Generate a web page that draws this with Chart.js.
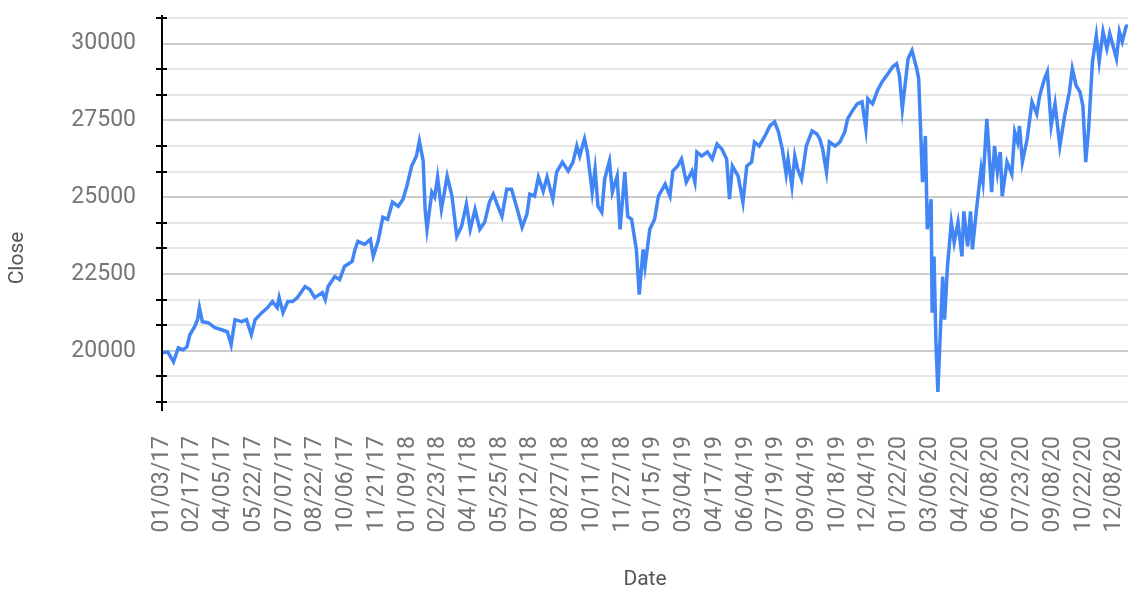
<!DOCTYPE html>
<html lang="en">
<head>
  <meta charset="UTF-8">
  <title>Close by Date</title>
  <script src="https://cdn.jsdelivr.net/npm/chart.js"></script>
  <style>
    body { margin: 0; background: #fff; }
    #wrap { position: relative; width: 1137px; height: 602px; }
  </style>
</head>
<body>
  <div id="wrap">
    <canvas id="closeChart"></canvas>
  </div>

  <script>
    // trading-day index (0 = 01/03/17) and close value
    const dayIdx = [
      0, 6, 12, 17, 22, 26, 29, 34, 37, 39, 42, 48, 55, 62, 68, 72, 76, 83, 88, 93,
      97, 104, 110, 115, 120, 122, 126, 131, 136, 141, 149, 154, 159, 167, 170, 173, 180, 185, 190, 198,
      201, 204, 211, 217, 220, 225, 230, 235, 240, 246, 251, 255, 260, 265, 268, 272, 274, 276, 281, 284,
      287, 291, 297, 302, 307, 312, 317, 321, 326, 331, 336, 341, 345, 349, 354, 359, 364, 370, 375, 380,
      383, 388, 392, 397, 401, 407, 411, 417, 423, 428, 432, 435, 440, 443, 448, 451, 454, 458, 461, 466,
      469, 474, 477, 482, 485, 489, 494, 497, 501, 503, 508, 513, 517, 524, 529, 532, 537, 541, 546, 552,
      555, 557, 562, 568, 573, 578, 583, 588, 591, 594, 600, 605, 609, 614, 617, 622, 628, 633, 638, 642,
      646, 650, 652, 656, 659, 662, 666, 671, 677, 682, 685, 688, 692, 695, 701, 706, 711, 714, 719, 724,
      729, 733, 735, 740, 745, 750, 756, 761, 765, 768, 771, 777, 781, 786, 788, 790, 792, 795, 797, 801,
      802, 804, 806, 808, 813, 815, 818, 822, 825, 829, 833, 835, 839, 842, 844, 848, 853, 855, 859, 864,
      867, 870, 873, 875, 880, 885, 888, 891, 893, 896, 901, 906, 911, 914, 919, 922, 924, 926, 930, 935,
      940, 945, 948, 952, 956, 959, 962, 965, 969, 973, 976, 980, 984, 987, 994, 997, 1000, 1004, 1006
    ];
    const closeVals = [
      19935, 19967, 19641, 20098, 20033, 20131, 20523, 20784, 21013, 21405, 20948, 20915, 20752, 20686, 20621, 20196, 21013, 20948, 21013, 20523,
      21013, 21242, 21405, 21601, 21405, 21732, 21242, 21601, 21601, 21732, 22092, 21993, 21732, 21895, 21667, 22092, 22418, 22320, 22745, 22909,
      23301, 23562, 23464, 23627, 23072, 23562, 24346, 24281, 24837, 24706, 24935, 25360, 26013, 26340, 26830, 26177, 24608, 23954, 25163, 25000,
      25654, 24608, 25686, 25033, 23725, 24052, 24771, 23954, 24608, 23954, 24183, 24837, 25098, 24771, 24379, 25261, 25261, 24608, 24020, 24444,
      25098, 25033, 25654, 25196, 25654, 24935, 25817, 26144, 25850, 26144, 26667, 26340, 26895, 26471, 25163, 25915, 24706, 24510, 25588, 26177,
      25163, 25686, 23954, 25817, 24379, 24281, 23301, 21830, 23301, 22745, 23954, 24281, 25033, 25425, 25033, 25850, 26013, 26242, 25490, 25850,
      25490, 26471, 26340, 26471, 26242, 26732, 26569, 26242, 24935, 26013, 25686, 24837, 26013, 26144, 26797, 26667, 26994, 27320, 27451, 27124,
      26569, 25752, 26242, 25360, 26340, 25915, 25588, 26667, 27157, 27059, 26895, 26569, 25817, 26797, 26667, 26797, 27124, 27549, 27810, 28039,
      28105, 27222, 28203, 28039, 28464, 28758, 29020, 29248, 29346, 28954, 27876, 29510, 29771, 29183, 28856, 27222, 25490, 26994, 23954, 24935,
      21242, 23072, 20261, 18660, 22418, 21013, 22745, 24183, 23529, 24183, 23072, 24542, 23399, 24542, 23301, 24542, 25915, 25490, 27549, 25163,
      26667, 25817, 26471, 25033, 26144, 25752, 27124, 26797, 27320, 26144, 26895, 28105, 27712, 28301, 28856, 29085, 28203, 27320, 28039, 26667,
      27647, 28431, 29183, 28628, 28431, 27974, 26144, 27222, 29412, 30261, 29412, 30392, 29837, 30327, 29510, 30392, 30065, 30556, 30600
    ];

    // x labels, one every 32 trading days
    const tickLabels = [
      '01/03/17', '02/17/17', '04/05/17', '05/22/17', '07/07/17', '08/22/17', '10/06/17', '11/21/17',
      '01/09/18', '02/23/18', '04/11/18', '05/25/18', '07/12/18', '08/27/18', '10/11/18', '11/27/18',
      '01/15/19', '03/04/19', '04/17/19', '06/04/19', '07/19/19', '09/04/19', '10/18/19', '12/04/19',
      '01/22/20', '03/06/20', '04/22/20', '06/08/20', '07/23/20', '09/08/20', '10/22/20', '12/08/20'
    ];
    const labelStep = 32;
    const lastDay = 1006;

    // y axis: labelled lines, and two lighter lines between each pair
    const yMajor = [20000, 22500, 25000, 27500, 30000];
    const yMinorPerMajor = 3;

    const majorGap = yMajor[1] - yMajor[0];
    const yStep = majorGap / yMinorPerMajor;
    const yMin = yMajor[0] - 2 * yStep;
    const yMax = yMajor[yMajor.length - 1] + yStep;
    const isMajor = v => yMajor.some(m => Math.abs(m - v) < 1);

    Chart.defaults.font.family = 'Roboto';

    // black axis line with little cross ticks at the light lines, plus the y title
    const axisPlugin = {
      id: 'axisPlugin',
      afterDraw(chart) {
        const { ctx, chartArea, scales } = chart;
        const ys = scales.y;
        ctx.save();
        ctx.strokeStyle = '#000';
        ctx.lineWidth = 2;
        ctx.beginPath();
        ctx.moveTo(chartArea.left, chartArea.top - 3);
        ctx.lineTo(chartArea.left, chartArea.bottom + 9);
        ys.ticks.forEach(t => {
          if (isMajor(t.value)) return;
          const py = Math.round(ys.getPixelForValue(t.value));
          ctx.moveTo(chartArea.left - 6, py);
          ctx.lineTo(chartArea.left + 5, py);
        });
        ctx.stroke();

        ctx.translate(18, 258);
        ctx.rotate(-Math.PI / 2);
        ctx.font = '21px Roboto';
        ctx.fillStyle = '#555';
        ctx.textAlign = 'center';
        ctx.textBaseline = 'middle';
        ctx.fillText('Close', 0, 0);
        ctx.restore();
      }
    };

    const points = dayIdx.map((d, i) => ({ x: d, y: closeVals[i] }));

    new Chart(document.getElementById('closeChart'), {
      type: 'line',
      data: {
        datasets: [{
          label: 'Close',
          data: points,
          borderColor: '#4285f4',
          borderWidth: 3.5,
          pointRadius: 0,
          tension: 0,
          fill: false
        }]
      },
      options: {
        responsive: true,
        maintainAspectRatio: false,
        animation: false,
        layout: { padding: { top: 18, right: 9, left: 0, bottom: 0 } },
        plugins: {
          legend: { display: false },
          tooltip: { enabled: false }
        },
        scales: {
          x: {
            type: 'linear',
            min: 0,
            max: lastDay,
            grid: { display: false },
            border: { display: false },
            afterBuildTicks: scale => {
              scale.ticks = tickLabels.map((l, i) => ({ value: i * labelStep }));
            },
            afterFit: scale => {
              scale.height = 200;
              scale.paddingLeft = 0;
              scale.paddingRight = 0;
            },
            ticks: {
              autoSkip: false,
              minRotation: 90,
              maxRotation: 90,
              padding: 26,
              color: '#757575',
              font: { size: 23 },
              callback: (v, i) => tickLabels[i]
            },
            title: {
              display: true,
              text: 'Date',
              color: '#555',
              font: { size: 21 },
              padding: { top: 0, bottom: 10 }
            }
          },
          y: {
            min: yMin,
            max: yMax,
            border: { display: false },
            afterBuildTicks: scale => {
              const arr = [];
              for (let v = yMin; v <= yMax + 1; v += yStep) arr.push({ value: v });
              scale.ticks = arr;
            },
            afterFit: scale => {
              scale.width = 162;
              scale.paddingTop = 0;
              scale.paddingBottom = 0;
            },
            grid: {
              drawTicks: false,
              lineWidth: 2,
              color: c => isMajor(c.tick.value) ? '#cccccc' : '#e6e6e6'
            },
            ticks: {
              autoSkip: false,
              padding: 26,
              color: '#757575',
              font: { size: 23 },
              callback: v => isMajor(v) ? String(Math.round(v)) : ''
            }
          }
        }
      },
      plugins: [axisPlugin]
    });
  </script>
</body>
</html>
